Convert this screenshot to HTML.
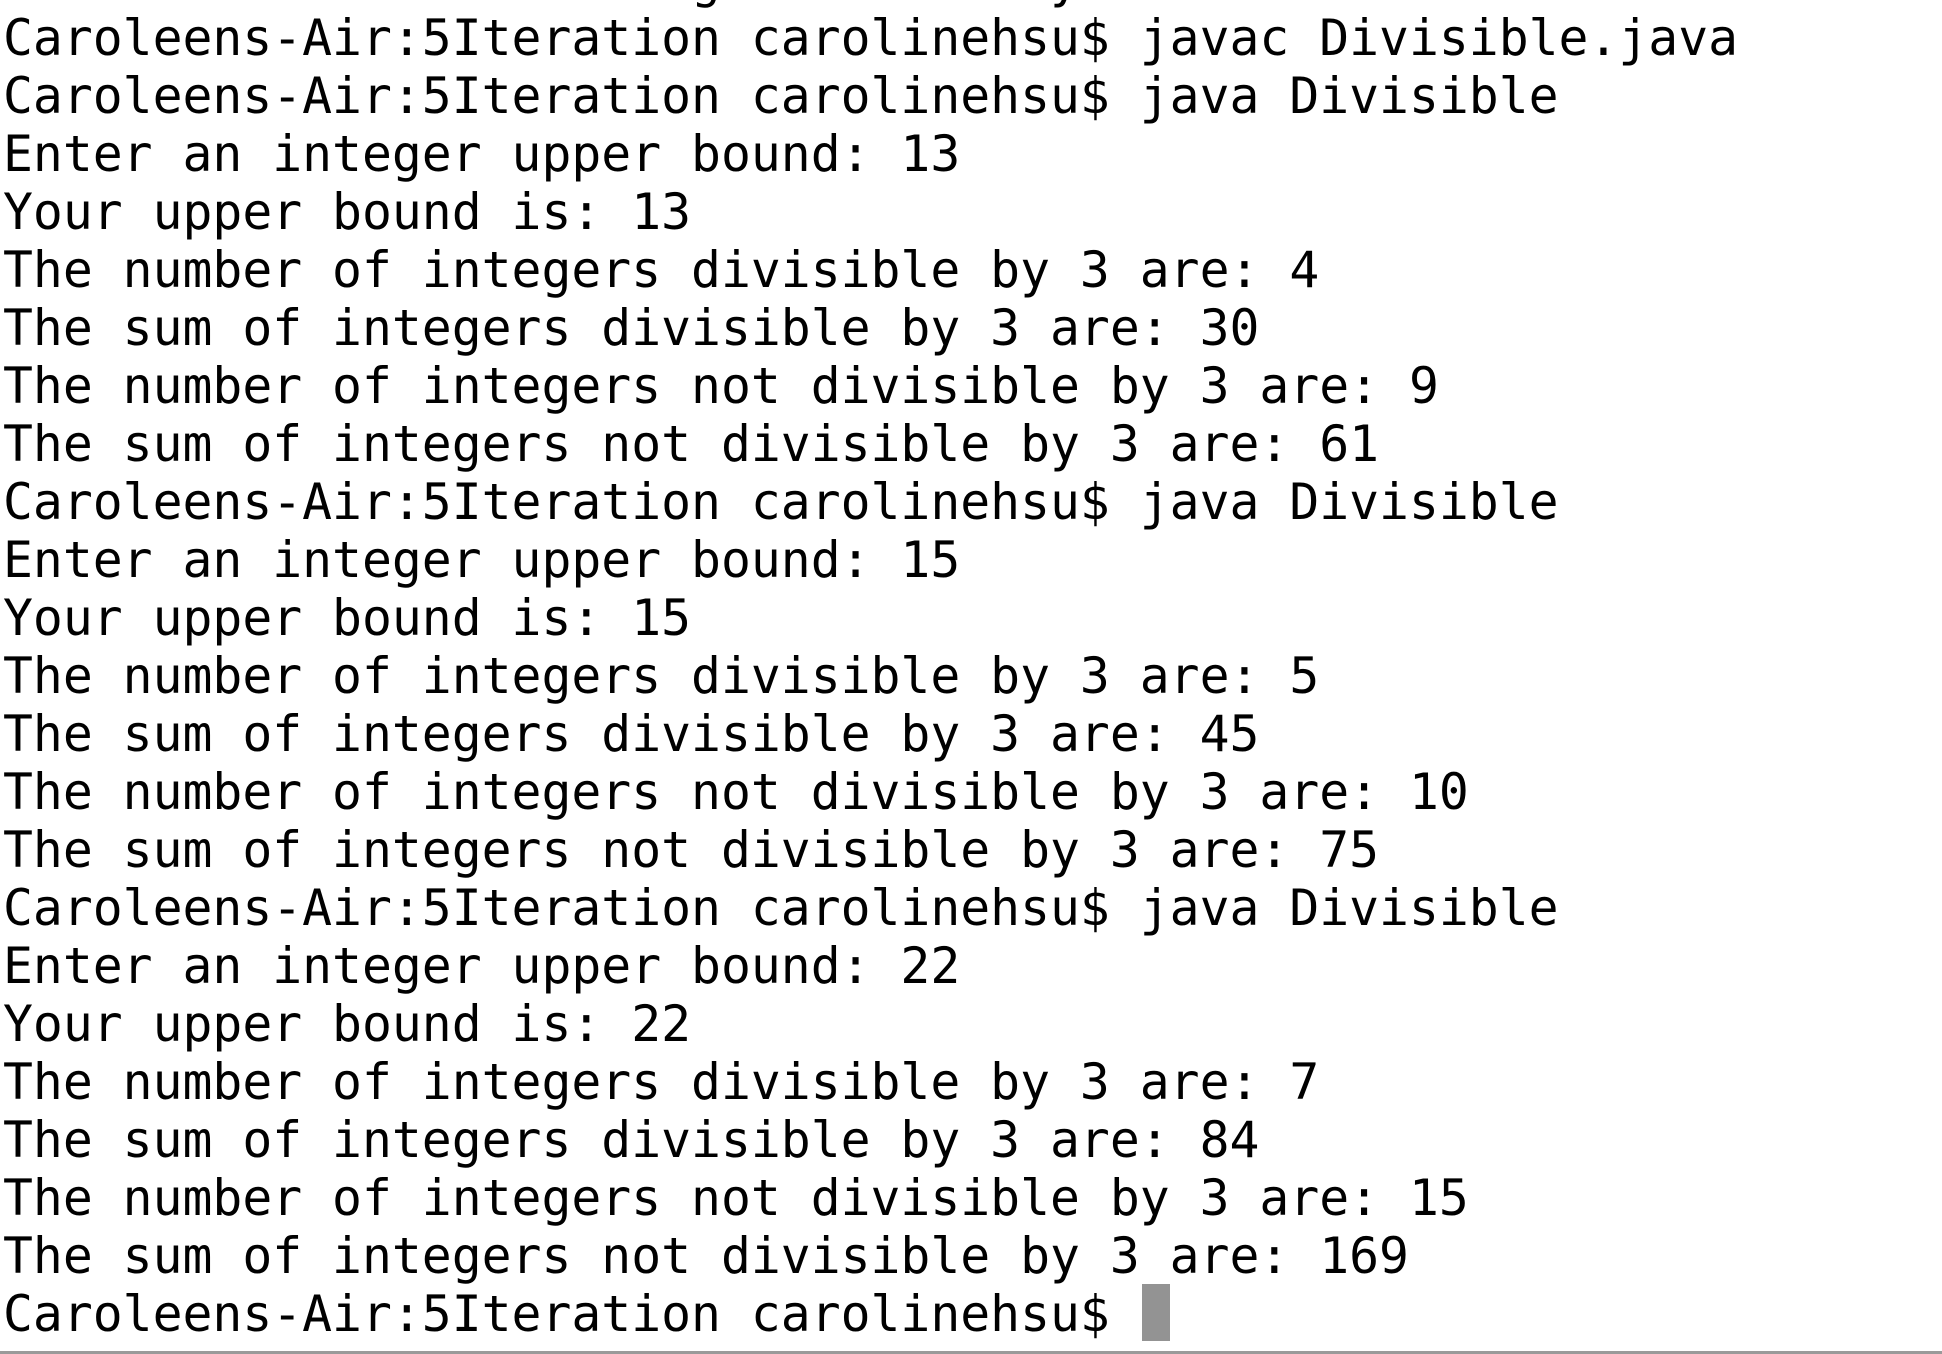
<!DOCTYPE html>
<html><head><meta charset="utf-8"><style>
html,body{margin:0;padding:0;width:1942px;height:1354px;overflow:hidden;background:#fff;}
pre{position:absolute;left:3px;top:-49px;margin:0;font-family:"DejaVu Sans Mono","Liberation Mono",monospace;font-size:49.7px;line-height:58px;color:#000;white-space:pre;}
.cur{position:absolute;left:1142px;top:1284px;width:28px;height:57px;background:#939393;}
.bot{position:absolute;left:0;top:1351px;width:1942px;height:3px;background:#9a9a9a;}
</style></head><body>
<pre>                       g           y
Caroleens-Air:5Iteration carolinehsu$ javac Divisible.java
Caroleens-Air:5Iteration carolinehsu$ java Divisible
Enter an integer upper bound: 13
Your upper bound is: 13
The number of integers divisible by 3 are: 4
The sum of integers divisible by 3 are: 30
The number of integers not divisible by 3 are: 9
The sum of integers not divisible by 3 are: 61
Caroleens-Air:5Iteration carolinehsu$ java Divisible
Enter an integer upper bound: 15
Your upper bound is: 15
The number of integers divisible by 3 are: 5
The sum of integers divisible by 3 are: 45
The number of integers not divisible by 3 are: 10
The sum of integers not divisible by 3 are: 75
Caroleens-Air:5Iteration carolinehsu$ java Divisible
Enter an integer upper bound: 22
Your upper bound is: 22
The number of integers divisible by 3 are: 7
The sum of integers divisible by 3 are: 84
The number of integers not divisible by 3 are: 15
The sum of integers not divisible by 3 are: 169
Caroleens-Air:5Iteration carolinehsu$ </pre>
<div class="cur"></div>
<div class="bot"></div>
</body></html>
